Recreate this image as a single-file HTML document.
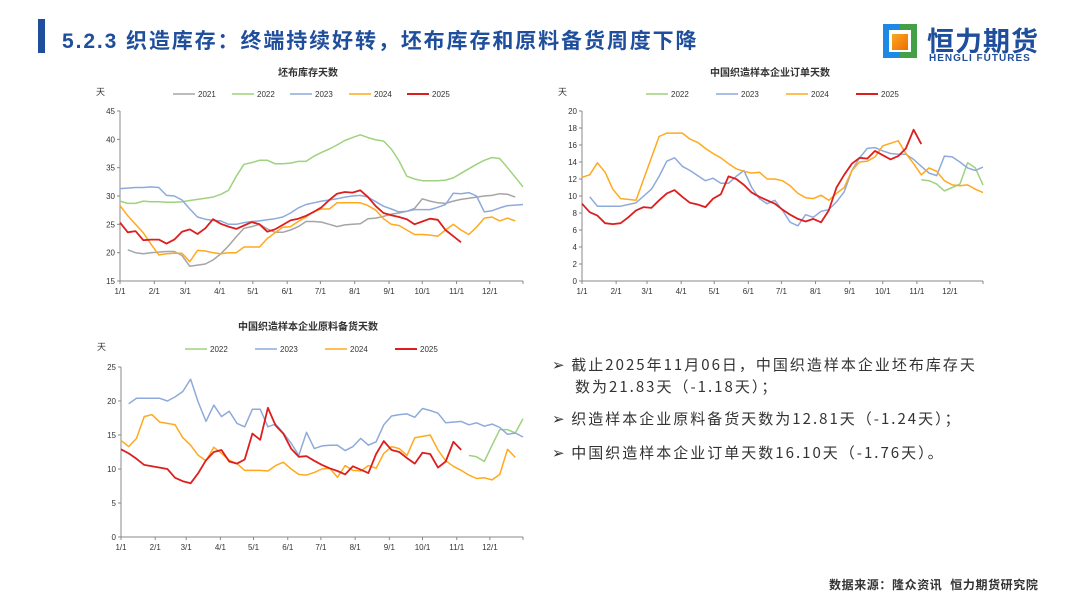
<!DOCTYPE html>
<html><head><meta charset="utf-8">
<style>
body{margin:0;width:1080px;height:608px;background:#fff;font-family:"Liberation Sans","Noto Sans CJK SC",sans-serif;position:relative;overflow:hidden}
.abs{position:absolute}
.bul{position:absolute;left:552px;font-size:15px;color:#333;letter-spacing:2px;font-family:"Noto Sans CJK SC",sans-serif;white-space:nowrap}
</style></head><body>
<div class="abs" style="left:38px;top:19px;width:7px;height:34px;background:#1f4e9c"></div>
<div class="abs" style="left:62px;top:25px;font-size:21px;font-weight:bold;color:#1f4e9c;letter-spacing:1.9px;white-space:nowrap">5.2.3 织造库存：终端持续好转，坯布库存和原料备货周度下降</div>
<div class="abs" style="left:883px;top:22px;width:165px;height:42px">
 <div class="abs" style="left:0;top:2px;width:34px;height:34px;background:linear-gradient(90deg,#1e88e5 0 50%,#43a047 50%)"></div>
 <div class="abs" style="left:6px;top:8px;width:22px;height:22px;background:#fff"></div>
 <div class="abs" style="left:9px;top:12px;width:16px;height:16px;background:linear-gradient(135deg,#f9a825,#ef6c00)"></div>
 <div class="abs" style="left:44px;top:-2px;font-size:27px;font-weight:bold;color:#1f4e9c;letter-spacing:1px">恒力期货</div>
 <div class="abs" style="left:46px;top:31px;font-size:10px;font-weight:bold;color:#1f4e9c;letter-spacing:1px">HENGLI FUTURES</div>
</div>
<svg id="svg" class="abs" style="left:0;top:0" width="1080" height="608"></svg>
<div class="bul" style="top:354px"><span style="letter-spacing:0">➢&nbsp;&nbsp;</span>截止2025年11月06日，中国织造样本企业坯布库存天</div>
<div class="bul" style="top:376px;left:575px">数为21.83天（-1.18天）；</div>
<div class="bul" style="top:408px"><span style="letter-spacing:0">➢&nbsp;&nbsp;</span>织造样本企业原料备货天数为12.81天（-1.24天）；</div>
<div class="bul" style="top:442px"><span style="letter-spacing:0">➢&nbsp;&nbsp;</span>中国织造样本企业订单天数16.10天（-1.76天）。</div>
<div class="abs" style="left:829px;top:576px;font-size:12px;font-weight:bold;color:#333;letter-spacing:0.6px;white-space:nowrap">数据来源：隆众资讯&nbsp;&nbsp;恒力期货研究院</div>
<script>
const months=["1/1","2/1","3/1","4/1","5/1","6/1","7/1","8/1","9/1","10/1","11/1","12/1"];
const monthDays=[0,31,59,90,120,151,181,212,243,273,304,334];
// chart 1
const c1Ticks=[15,20,25,30,35,40,45];
const c1Years=["2021","2022","2023","2024","2025"];
const c1Start=[1,0,0,0,0];
const c1_2021=[20.5,20.0,19.8,20.0,20.1,20.2,20.2,19.5,17.6,17.8,18.0,18.7,19.8,21.2,22.8,24.3,24.6,25.0,24.2,23.6,23.6,24.0,24.6,25.5,25.5,25.4,25.0,24.6,24.9,25.0,25.1,26.0,26.1,26.4,26.8,27.0,27.3,27.8,29.5,29.1,28.8,28.7,29.1,29.4,29.6,29.8,30.0,30.1,30.4,30.3,29.8];
const c1_2022=[29.1,28.7,28.7,29.1,29.0,29.0,28.9,28.9,29.0,29.2,29.4,29.6,29.8,30.3,31.0,33.5,35.6,35.9,36.3,36.3,35.7,35.7,35.8,36.1,36.1,37.0,37.7,38.3,39.0,39.8,40.3,40.8,40.3,39.9,39.7,38.3,36.2,33.5,33.0,32.7,32.7,32.7,32.8,33.2,34.0,34.8,35.6,36.3,36.8,36.6,35.0,33.3,31.6];
const c1_2023=[31.3,31.4,31.5,31.5,31.6,31.5,30.1,30.0,29.3,27.7,26.3,25.9,25.7,25.6,25.0,25.0,25.3,25.5,25.6,25.8,26.0,26.3,27.0,27.9,28.5,28.8,29.1,29.3,29.5,29.8,30.0,30.1,29.8,29.0,28.2,27.7,27.2,27.3,27.6,27.6,27.6,28.0,28.5,30.5,30.4,30.6,30.0,27.2,27.4,27.9,28.3,28.4,28.5];
const c1_2024=[28.3,26.5,25.0,23.5,21.5,19.6,19.8,19.9,19.9,18.4,20.4,20.3,20.0,19.8,20.0,20.0,21.0,21.0,21.0,22.5,23.5,24.5,24.6,25.5,26.3,27.3,27.7,27.7,28.8,28.8,28.8,28.8,28.3,27.5,26.0,25.0,24.8,24.0,23.2,23.2,23.1,22.9,24.0,25.0,24.0,23.2,24.5,26.1,26.3,25.6,26.1,25.6];
const c1_2025=[25.3,23.6,23.8,22.2,22.3,22.3,21.6,22.3,23.7,24.1,23.3,24.3,25.9,25.1,24.6,24.2,24.8,25.4,25.0,23.7,24.1,24.9,25.7,26.0,26.5,27.2,28.0,29.3,30.4,30.7,30.6,31.0,29.8,28.2,27.0,26.6,26.3,25.9,25.0,25.5,26.0,25.8,24.0,22.9,21.83];
// chart 2
const c2Ticks=[0,2,4,6,8,10,12,14,16,18,20];
const c2Years=["2022","2023","2024","2025"];
const c2Start=[44,1,0,0];
const c2_2022=[11.9,11.8,11.4,10.6,11.0,11.4,13.9,13.3,11.3];
const c2_2023=[9.9,8.8,8.8,8.8,8.8,9.0,9.2,10.0,10.8,12.3,14.1,14.5,13.5,13.0,12.4,11.8,12.1,11.5,11.5,12.3,13.0,11.0,9.7,9.1,9.5,8.3,6.9,6.5,7.8,7.5,8.2,8.4,9.3,10.5,13.0,14.5,15.6,15.7,15.3,15.0,14.9,14.9,14.3,13.5,12.7,12.4,14.7,14.6,14.0,13.3,13.0,13.4];
const c2_2024=[12.2,12.5,13.9,12.8,10.8,9.7,9.6,9.5,12.0,14.5,17.0,17.4,17.4,17.4,16.7,16.3,15.6,15.0,14.5,13.8,13.2,12.9,12.7,12.8,12.0,12.0,11.8,11.2,10.3,9.8,9.7,10.1,9.5,10.3,11.0,13.0,14.0,14.1,14.6,15.9,16.2,16.5,15.0,13.8,12.5,13.3,12.9,11.8,11.3,11.2,11.3,10.8,10.4];
const c2_2025=[9.1,8.1,7.7,6.8,6.7,6.8,7.5,8.3,8.7,8.6,9.5,10.3,10.7,9.9,9.2,9.0,8.7,9.7,10.2,12.3,12.0,11.3,10.4,9.9,9.5,9.1,8.4,7.8,7.3,7.0,7.3,6.9,8.3,11.0,12.5,13.8,14.5,14.4,15.3,14.8,14.3,14.7,15.6,17.8,16.1];
// chart 3
const c3Ticks=[0,5,10,15,20,25];
const c3Years=["2022","2023","2024","2025"];
const c3Start=[45,1,0,0];
const c3_2022=[12.0,11.8,11.1,13.5,15.8,15.8,15.3,17.4];
const c3_2023=[19.6,20.4,20.4,20.4,20.4,20.0,20.6,21.4,23.2,19.8,17.0,19.4,17.7,18.5,16.7,16.2,18.8,18.8,16.2,16.6,15.3,13.8,12.0,15.4,13.0,13.4,13.5,13.5,12.7,13.3,14.5,13.5,14.0,16.5,17.8,18.0,18.1,17.6,18.9,18.6,18.2,16.8,16.9,17.0,16.5,16.8,16.3,16.6,16.1,15.1,15.3,14.7];
const c3_2024=[14.2,13.3,14.5,17.7,18.0,16.9,16.7,16.5,14.6,13.5,12.0,11.2,13.2,12.3,11.3,10.8,9.8,9.8,9.8,9.7,10.5,11.0,10.0,9.2,9.1,9.5,10.0,10.1,8.8,10.5,9.8,9.7,10.5,10.1,12.3,13.3,13.0,12.0,14.6,14.8,15.0,12.8,11.2,10.4,9.8,9.1,8.6,8.7,8.4,9.2,12.9,11.7];
const c3_2025=[12.9,12.3,11.5,10.6,10.4,10.2,10.0,8.7,8.2,7.9,9.4,11.3,12.5,12.8,11.1,10.8,11.4,15.2,14.3,19.0,16.4,15.2,13.0,11.8,11.9,11.2,10.6,10.1,9.7,9.2,10.4,9.9,9.4,12.2,14.1,12.8,12.5,11.6,10.8,12.4,12.2,10.2,11.1,14.0,12.81];

const COL={"2021":"#a5a5a5","2022":"#9fd27f","2023":"#8eaadb","2024":"#ffa91e","2025":"#dd1e1e"};
const NS="http://www.w3.org/2000/svg";
const svg=document.getElementById('svg');
function mk(tag,attrs,parent){const e=document.createElementNS(NS,tag);for(const k in attrs)e.setAttribute(k,attrs[k]);(parent||svg).appendChild(e);return e;}
function txt(x,y,s,size,anchor,parent,bold){const t=mk('text',{x:x,y:y,'font-size':size,'text-anchor':anchor||'start',fill:'#333','font-family':'"Liberation Sans","Noto Sans CJK SC",sans-serif','font-weight':bold?'bold':'normal'},parent);t.textContent=s;return t;}
function chart(cfg){
  const g=mk('g',{});
  
  
  const xs=w=>cfg.x0+(cfg.x1-cfg.x0)*w/52;
  const ys=v=>cfg.y0+(cfg.y1-cfg.y0)*(v-cfg.vmin)/(cfg.vmax-cfg.vmin);
  const tt=txt(cfg.tx,cfg.ty,cfg.title,10,'middle',g,true);
  
  
  txt(cfg.x0-24,cfg.uy,'天',9,'start',g);
  mk('line',{x1:cfg.x0,y1:cfg.y1,x2:cfg.x0,y2:cfg.y0,stroke:'#888','stroke-width':1},g);
  mk('line',{x1:cfg.x0,y1:cfg.y0,x2:cfg.x1,y2:cfg.y0,stroke:'#888','stroke-width':1},g);
  cfg.ticks.forEach(v=>{const y=ys(v);mk('line',{x1:cfg.x0-3,y1:y,x2:cfg.x0,y2:y,stroke:'#888'},g);txt(cfg.x0-5,y+3,String(v),8,'end',g);});
  months.forEach((m,i)=>{const x=xs(monthDays[i]/7);mk('line',{x1:x,y1:cfg.y0,x2:x,y2:cfg.y0+3,stroke:'#888'},g);txt(x,cfg.y0+13,m,8,'middle',g);});
  mk('line',{x1:cfg.x1,y1:cfg.y0,x2:cfg.x1,y2:cfg.y0+3,stroke:'#888'},g);
  cfg.years.forEach((yr,i)=>{
    const lx=cfg.lx[i];
    mk('line',{x1:lx,y1:cfg.ly,x2:lx+22,y2:cfg.ly,stroke:COL[yr],'stroke-width':yr==='2025'?2:1.6},g);
    txt(lx+25,cfg.ly+3,yr,8,'start',g);
    const data=cfg.data[i],s=cfg.start[i];
    const pts=data.map((v,k)=>xs(s+k).toFixed(1)+','+ys(v).toFixed(1)).join(' ');
    const p=mk('polyline',{points:pts,fill:'none',stroke:COL[yr],'stroke-width':yr==='2025'?1.8:1.5,'stroke-linejoin':'round'},g);
    
    
  });
}
chart({name:'greige-inventory-chart',title:'坯布库存天数',tx:308,ty:76,uy:95,x0:120,x1:523,y0:281,y1:111,vmin:15,vmax:45,ticks:c1Ticks,years:c1Years,start:c1Start,data:[c1_2021,c1_2022,c1_2023,c1_2024,c1_2025],lx:[173,232,290,349,407],ly:94});
chart({name:'order-days-chart',title:'中国织造样本企业订单天数',tx:770,ty:76,uy:95,x0:582,x1:983,y0:281,y1:111,vmin:0,vmax:20,ticks:c2Ticks,years:c2Years,start:c2Start,data:[c2_2022,c2_2023,c2_2024,c2_2025],lx:[646,716,786,856],ly:94});
chart({name:'raw-material-chart',title:'中国织造样本企业原料备货天数',tx:308,ty:330,uy:350,x0:121,x1:523,y0:537,y1:367,vmin:0,vmax:25,ticks:c3Ticks,years:c3Years,start:c3Start,data:[c3_2022,c3_2023,c3_2024,c3_2025],lx:[185,255,325,395],ly:349});
</script>
</body></html>
